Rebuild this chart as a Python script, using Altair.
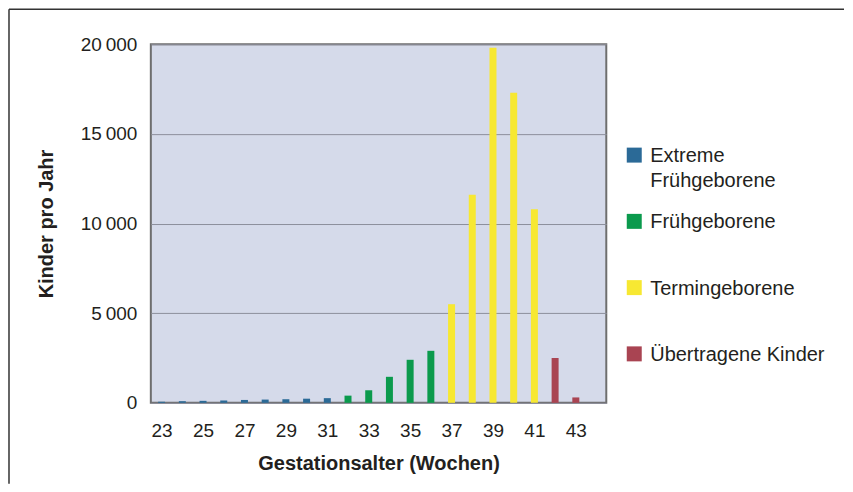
import altair as alt
import pandas as pd

# ---- data ----
weeks = list(range(23, 44))
births = [60, 90, 110, 130, 160, 180, 200, 230, 260,
          400, 700, 1450, 2400, 2900,
          5500, 11600, 19800, 17300, 10800,
          2500, 300]
groups = (["Extreme Frühgeborene"] * 9 + ["Frühgeborene"] * 5
          + ["Termingeborene"] * 5 + ["Übertragene Kinder"] * 2)

group_order = ["Extreme Frühgeborene", "Frühgeborene", "Termingeborene", "Übertragene Kinder"]
group_labels = ["Extreme\nFrühgeborene", "Frühgeborene", "Termingeborene", "Übertragene Kinder"]
group_colors = ["#2b6a97", "#0b9a4d", "#f7e832", "#a94452"]

x_ticks = [23, 25, 27, 29, 31, 33, 35, 37, 39, 41, 43]
y_ticks = [0, 5000, 10000, 15000, 20000]

df = pd.DataFrame({"Woche": weeks, "Kinder": births, "Gruppe": groups})
legend_df = pd.DataFrame({"Gruppe": group_order, "Label": group_labels})
one = pd.DataFrame({"k": [0]})

FONT = "Liberation Sans"
TXT = "#231f20"

color_scale = alt.Scale(domain=group_order, range=group_colors)

bars = alt.Chart(df).mark_bar(size=7).encode(
    x=alt.X("Woche:Q",
            scale=alt.Scale(domain=[22.72, 44.23], nice=False, zero=False),
            axis=alt.Axis(values=x_ticks, title="Gestationsalter (Wochen)",
                          grid=False, ticks=False, domain=False,
                          labelFontSize=19, labelPadding=19, labelColor=TXT,
                          labelFont=FONT, titleFont=FONT, titleFontSize=20,
                          titleFontWeight="bold", titleColor=TXT, titlePadding=13)),
    y=alt.Y("Kinder:Q",
            scale=alt.Scale(domain=[0, 20000], nice=False),
            axis=alt.Axis(values=y_ticks, title="Kinder pro Jahr",
                          grid=True, gridColor="#8d8f9c", gridWidth=1,
                          ticks=False, domain=False,
                          labelExpr='replace(format(datum.value, ","), ",", "\u2009")',
                          labelFontSize=19, labelPadding=14, labelColor=TXT,
                          labelFont=FONT, titleFont=FONT, titleFontSize=20,
                          titleFontWeight="bold", titleColor=TXT, titlePadding=24)),
    color=alt.Color("Gruppe:N", scale=color_scale, legend=None),
)

legend_y = alt.Y("Gruppe:N",
                 scale=alt.Scale(type="point", domain=group_order, range=[111, 310], padding=0),
                 axis=None)

legend_sym = alt.Chart(legend_df).mark_square(size=225, opacity=1).encode(
    x=alt.value(484),
    y=legend_y,
    color=alt.Color("Gruppe:N", scale=color_scale, legend=None),
)

legend_txt = alt.Chart(legend_df).mark_text(
    align="left", baseline="alphabetic", dy=7, fontSize=20, font=FONT,
    color=TXT, lineBreak="\n", lineHeight=25,
).encode(
    x=alt.value(500),
    y=legend_y,
    text="Label:N",
)

frame_top = alt.Chart(one).mark_rule(color="#333333", strokeWidth=1.5).encode(
    x=alt.value(-142), x2=alt.value(694), y=alt.value(-35)
)
frame_left = alt.Chart(one).mark_rule(color="#333333", strokeWidth=1.5).encode(
    x=alt.value(-142), y=alt.value(-35), y2=alt.value(440)
)

chart = alt.layer(frame_top, frame_left, bars, legend_sym, legend_txt).resolve_scale(
    y="independent"
).properties(
    width=456, height=359,
    padding={"left": 0, "top": 0, "right": 0, "bottom": 0},
    background="white",
).configure_view(
    fill="#d5daea", stroke="#6e6e6e", strokeWidth=2
)

chart.save("out.html", embed_options={"renderer": "svg", "actions": False})
